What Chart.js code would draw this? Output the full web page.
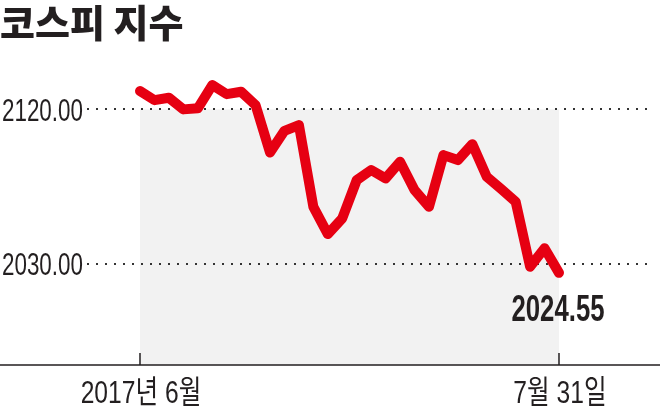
<!DOCTYPE html>
<html>
<head>
<meta charset="utf-8">
<script src="https://cdn.jsdelivr.net/npm/chart.js@4"></script>
<style>
  body { margin: 0; background: #fff; }
  canvas { display: block; }
</style>
</head>
<body>
<canvas id="kospi" width="660" height="409"></canvas>
<script>
const title = "코스피 지수";
const values = [
  2130.7, 2125.4, 2126.8, 2120.0, 2120.6, 2134.2, 2128.9, 2130.3, 2122.5, 2094.8,
  2107.5, 2110.8, 2063.1, 2047.2, 2056.4, 2078.7, 2084.6, 2079.7, 2089.4, 2072.9,
  2063.1, 2093.3, 2090.4, 2099.7, 2080.7, 2073.5, 2066.1, 2028.1, 2038.9, 2024.55,
];
const xTicks = [0, values.length - 1];
const xTickLabels = ["2017년 6월", "7월 31일"];
const yTicks = [2030, 2120];

const ink = "#231f20";
const red = "#e60012";
const face = "'Liberation Sans', 'Noto Sans CJK KR', sans-serif";

// the print font is a condensed one, so squeeze the text sideways
function squeezed(ctx, text, x, y, font, align, sx) {
  ctx.save();
  ctx.translate(x, y);
  ctx.scale(sx, 1);
  ctx.font = font;
  ctx.fillStyle = ink;
  ctx.textAlign = align;
  ctx.textBaseline = "alphabetic";
  ctx.fillText(text, 0, 0);
  ctx.restore();
}

// gray box, baseline and tick marks behind the line
const backdrop = {
  id: "backdrop",
  beforeDraw(chart) {
    const { ctx, scales: { x, y } } = chart;
    const left = x.getPixelForValue(xTicks[0]);
    const right = x.getPixelForValue(xTicks[1]);
    const top = y.getPixelForValue(yTicks[1]);
    const bottom = chart.chartArea.bottom;
    ctx.save();
    ctx.fillStyle = "#f2f2f2";
    ctx.fillRect(left, top, right - left, bottom - top);
    ctx.strokeStyle = ink;
    ctx.lineWidth = 1.5;
    ctx.beginPath();
    ctx.moveTo(0, bottom);
    ctx.lineTo(chart.width, bottom);
    xTicks.forEach((v) => {
      const px = x.getPixelForValue(v);
      ctx.moveTo(px, bottom);
      ctx.lineTo(px, bottom - 12);
    });
    ctx.stroke();
    ctx.restore();
  },
};

// tick labels and the last value
const labels = {
  id: "labels",
  afterDraw(chart) {
    const { ctx, scales: { x, y } } = chart;
    yTicks.forEach((v) => {
      squeezed(ctx, v.toFixed(2), 2, y.getPixelForValue(v) + 11.5, "32px " + face, "left", 0.7);
    });
    xTicks.forEach((v, i) => {
      squeezed(ctx, xTickLabels[i], x.getPixelForValue(v) + 1, 403, "32px " + face, "center", 0.77);
    });
    const pts = chart.getDatasetMeta(0).data;
    const p = pts[pts.length - 1];
    const last = values[values.length - 1].toFixed(2);
    squeezed(ctx, last, p.x - 1, p.y + 48, "bold 36px " + face, "center", 0.715);
  },
};

new Chart(document.getElementById("kospi"), {
  type: "line",
  data: {
    datasets: [
      {
        data: values.map((v, i) => ({ x: i, y: v })),
        borderColor: red,
        borderWidth: 10,
        borderJoinStyle: "round",
        borderCapStyle: "round",
        pointRadius: 0,
        tension: 0,
        fill: false,
        clip: false,
      },
    ],
  },
  options: {
    responsive: false,
    animation: false,
    layout: { padding: { left: 0, right: 8, top: 0, bottom: 0 } },
    plugins: {
      legend: { display: false },
      tooltip: { enabled: false },
      title: {
        display: true,
        text: title,
        align: "start",
        color: ink,
        font: { family: "'Noto Sans CJK KR', sans-serif", size: 38, weight: "900" },
        padding: { top: 0, bottom: 12.4 },
      },
    },
    scales: {
      x: {
        type: "linear",
        min: -3.668,
        max: 35.437,
        grid: { display: false, drawTicks: false },
        border: { display: false },
        afterBuildTicks: (scale) => {
          scale.ticks = xTicks.map((v) => ({ value: v }));
        },
        afterFit: (scale) => {
          scale.height = 44;
        },
        ticks: { display: false },
      },
      y: {
        min: 1970.75,
        max: 2150,
        grid: { color: "#333", lineWidth: 2, drawTicks: false },
        border: { display: false, dash: [2, 7] },
        afterBuildTicks: (scale) => {
          scale.ticks = yTicks.map((v) => ({ value: v }));
        },
        afterFit: (scale) => {
          scale.width = 87;
        },
        ticks: { display: false },
      },
    },
  },
  plugins: [backdrop, labels],
});
</script>
</body>
</html>
